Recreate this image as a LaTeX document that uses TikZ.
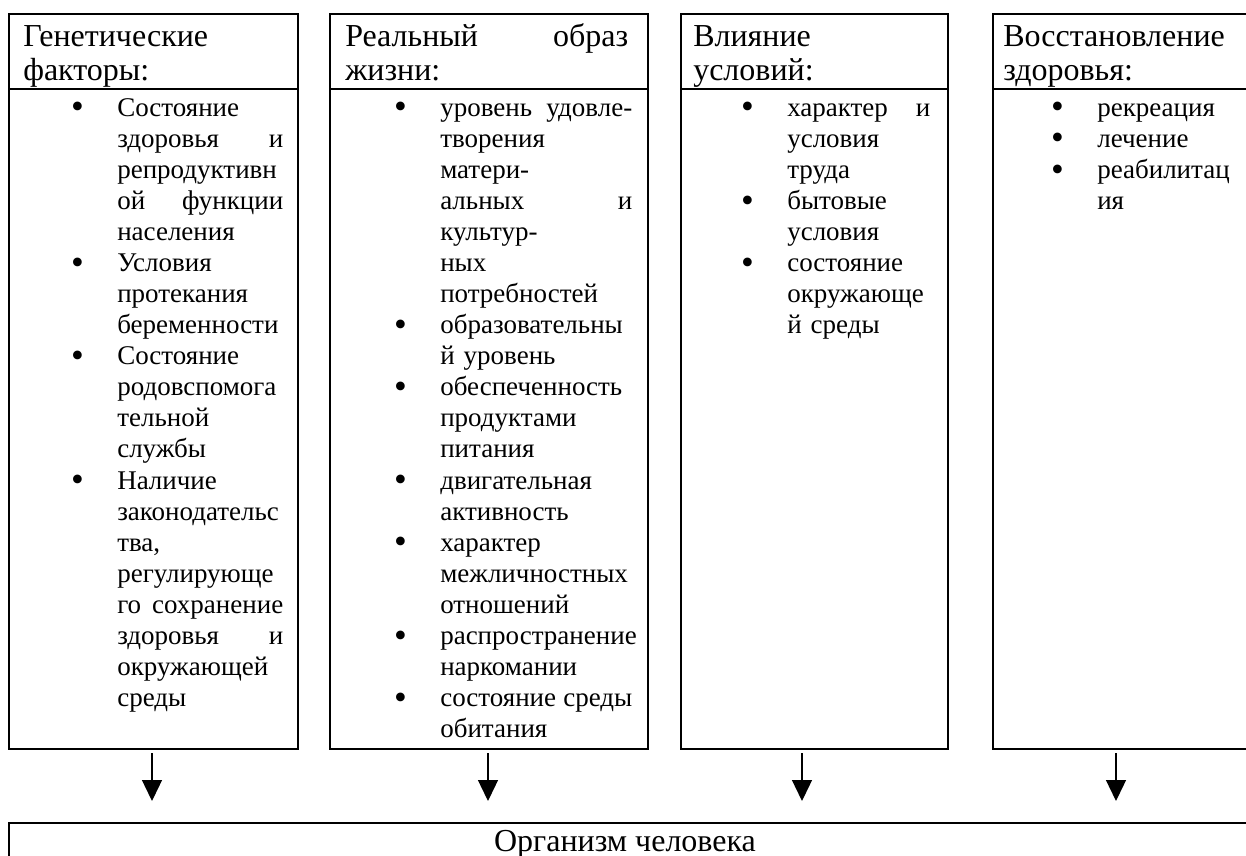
\documentclass[tikz,border=0pt]{standalone}
\usepackage{fontspec}
\setmainfont{Liberation Serif}
\usetikzlibrary{arrows.meta}
\newcommand{\pkt}{\leavevmode\llap{\raisebox{-2pt}{\scalebox{1.35}{\textbullet}}\hspace{25pt}}}
\newcommand{\jf}{\nobreak\hfill}
\begin{document}
\begin{tikzpicture}[x=0.75pt,y=-0.75pt,>={Triangle[length=15.75pt,width=15pt]},
  frame/.style={draw,line width=1.5pt,inner sep=0pt,anchor=north west},
  head/.style={anchor=north west,inner sep=0pt,align=left,font=\fontsize{24}{25.5}\selectfont},
  body/.style={anchor=north west,inner sep=0pt,align=left,font=\fontsize{20.25}{23.3}\selectfont}]
\useasboundingbox (0,0) rectangle (1246,856);
\clip (0,0) rectangle (1246,856);
\node[frame,minimum width=216.75pt,minimum height=56.625pt] (h1) at (8,13) {};
\node[frame,minimum width=216.75pt,minimum height=494.625pt] (f1) at (8,88.5) {};
\node[frame,minimum width=238.5pt,minimum height=56.625pt] (h2) at (329,13) {};
\node[frame,minimum width=238.5pt,minimum height=494.625pt] (f2) at (329,88.5) {};
\node[frame,minimum width=200.25pt,minimum height=56.625pt] (h3) at (680,13) {};
\node[frame,minimum width=200.25pt,minimum height=494.625pt] (f3) at (680,88.5) {};
\node[frame,minimum width=202.5pt,minimum height=56.625pt] (h4) at (992,13) {};
\node[frame,minimum width=202.5pt,minimum height=494.625pt] (f4) at (992,88.5) {};
\node[frame,minimum width=940.5pt,minimum height=45pt] (org) at (8,822) {};
\node[head,text width=191.25pt] (gen) at (23,19.8) {\rule{0pt}{20pt}Генетические\\факторы:};
\node[head,text width=212.25pt] (obr) at (345,19.8) {\rule{0pt}{20pt}Реальный\jf образ\\жизни:};
\node[head,text width=176.25pt] (vli) at (693,19.8) {\rule{0pt}{20pt}Влияние\\условий:};
\node[head,text width=177.75pt] (vos) at (1003,19.8) {\rule{0pt}{20pt}Восстановление\\здоровья:};
\node[body,text width=124.5pt] (gen-l) at (117,92) {\rule{0pt}{18pt}\pkt Состояние\\здоровья\jf и\\репродуктивн\\ой\jf функции\\населения\\
  \pkt Условия\\протекания\\беременности\\
  \pkt Состояние\\родовспомога\\тельной\\службы\\
  \pkt Наличие\\законодательс\\тва,\\регулирующе\\го\jf сохранение\\здоровья\jf и\\окружающей\\среды};
\node[body,text width=144pt] (obr-l) at (440,92) {\rule{0pt}{18pt}\pkt уровень\jf удовле-\\творения\\матери-\\альных\jf и\\культур-\\ных\\потребностей\\
  \pkt образовательны\\й уровень\\
  \pkt обеспеченность\\продуктами\\питания\\
  \pkt двигательная\\активность\\
  \pkt характер\\межличностных\\отношений\\
  \pkt распространение\\наркомании\\
  \pkt состояние\jf среды\\обитания};
\node[body,text width=107.25pt] (vli-l) at (787,92) {\rule{0pt}{18pt}\pkt характер\jf и\\условия\\труда\\
  \pkt бытовые\\условия\\
  \pkt состояние\\окружающе\\й среды};
\node[body,text width=105pt] (vos-l) at (1097,92) {\rule{0pt}{18pt}\pkt рекреация\\
  \pkt лечение\\
  \pkt реабилитац\\ия};
\node[anchor=base,inner sep=0pt,font=\fontsize{24}{28}\selectfont] (org-t) at (625,851) {Организм человека};
\foreach \i/\x in {1/152,2/488,3/802,4/1116}{
  \coordinate (a\i) at (\x,753);
  \coordinate (b\i) at (\x,801);
  \draw[->,line width=1pt] (a\i)--(b\i);
}
\end{tikzpicture}
\end{document}
